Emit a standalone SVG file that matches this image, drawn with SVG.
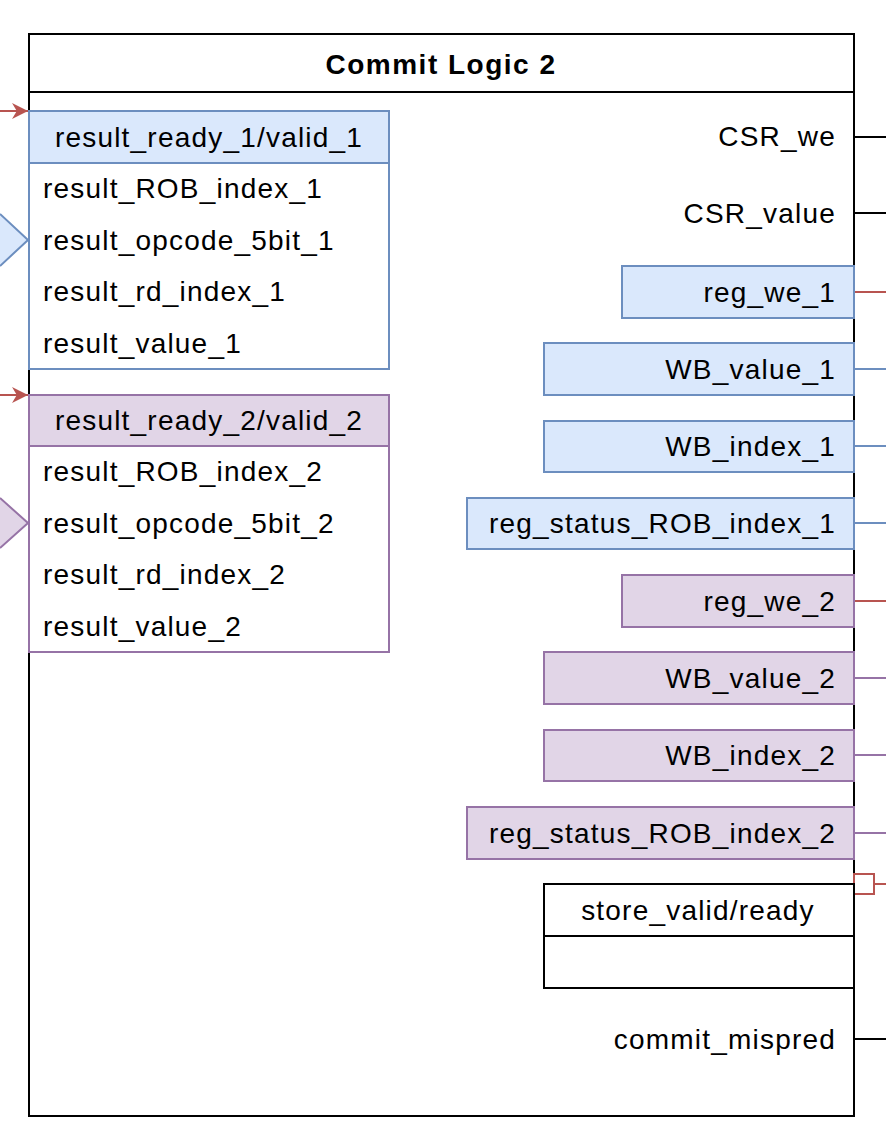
<svg xmlns="http://www.w3.org/2000/svg" width="886" height="1134" viewBox="0 0 886 1134">
<defs>
<style>
text{font-family:"Liberation Sans",Arial,sans-serif;font-size:28px;letter-spacing:1.2px;fill:#000}
.b{fill:#dae8fc;stroke:#6c8ebf;stroke-width:2}
.p{fill:#e1d5e7;stroke:#9673a6;stroke-width:2}
.w{fill:#fff;stroke:#000;stroke-width:2}
.r{text-anchor:end}
.m{text-anchor:middle}
</style>
<marker id="ar" viewBox="0 0 10 10" refX="10" refY="5" markerWidth="18" markerHeight="16" markerUnits="userSpaceOnUse" orient="auto"><path d="M0,0 L10,5 L0,10 L3,5 Z" fill="#b85450"/></marker>
</defs>
<rect width="886" height="1134" fill="#fff"/>
<g id="main">
<rect x="29" y="34" width="825" height="1082" class="w"/>
<line x1="29" y1="92" x2="854" y2="92" stroke="#000" stroke-width="2"/>
<text x="441" y="74" class="m" style="font-weight:bold;letter-spacing:1.5px">Commit Logic 2</text>
<text x="836" y="146" class="r">CSR_we</text>
<text x="836" y="223" class="r">CSR_value</text>
<text x="836" y="1049" class="r">commit_mispred</text>
</g>
<g id="connectors">
<line x1="0" y1="111" x2="28" y2="111" stroke="#b85450" stroke-width="2" marker-end="url(#ar)"/>
<line x1="0" y1="395" x2="28" y2="395" stroke="#b85450" stroke-width="2" marker-end="url(#ar)"/>
<path d="M0,214 L28,240 L0,266" class="b"/>
<path d="M0,498 L28,523 L0,548" class="p"/>
<g stroke="#000" stroke-width="2"><line x1="854" y1="137" x2="886" y2="137"/><line x1="854" y1="213" x2="886" y2="213"/><line x1="854" y1="1039" x2="886" y2="1039"/></g>
<g stroke="#b85450" stroke-width="2"><line x1="854" y1="292" x2="886" y2="292"/><line x1="854" y1="601" x2="886" y2="601"/><line x1="875" y1="884" x2="886" y2="884"/></g>
<g stroke="#6c8ebf" stroke-width="2"><line x1="854" y1="369" x2="886" y2="369"/><line x1="854" y1="446" x2="886" y2="446"/><line x1="854" y1="523" x2="886" y2="523"/></g>
<g stroke="#9673a6" stroke-width="2"><line x1="854" y1="678" x2="886" y2="678"/><line x1="854" y1="755" x2="886" y2="755"/><line x1="854" y1="833" x2="886" y2="833"/></g>
<rect x="854" y="874" width="20" height="20" fill="#fff" stroke="#b85450" stroke-width="2"/>
</g>
<g id="result1">
<rect x="29" y="111" width="360" height="258" fill="#fff" stroke="#6c8ebf" stroke-width="2"/>
<rect x="29" y="111" width="360" height="52" class="b"/>
<text x="209" y="147" class="m">result_ready_1/valid_1</text>
<text x="43" y="198">result_ROB_index_1</text>
<text x="43" y="250">result_opcode_5bit_1</text>
<text x="43" y="301">result_rd_index_1</text>
<text x="43" y="353">result_value_1</text>
</g>
<g id="result2">
<rect x="29" y="395" width="360" height="257" fill="#fff" stroke="#9673a6" stroke-width="2"/>
<rect x="29" y="395" width="360" height="51" class="p"/>
<text x="209" y="430" class="m">result_ready_2/valid_2</text>
<text x="43" y="481">result_ROB_index_2</text>
<text x="43" y="533">result_opcode_5bit_2</text>
<text x="43" y="584">result_rd_index_2</text>
<text x="43" y="636">result_value_2</text>
</g>
<g id="reg_we_1"><rect x="622" y="266" width="232" height="52" class="b"/><text x="836" y="302" class="r">reg_we_1</text></g>
<g id="WB_value_1"><rect x="544" y="343" width="310" height="52" class="b"/><text x="836" y="379" class="r">WB_value_1</text></g>
<g id="WB_index_1"><rect x="544" y="421" width="310" height="51" class="b"/><text x="836" y="456" class="r">WB_index_1</text></g>
<g id="reg_status_1"><rect x="467" y="498" width="387" height="51" class="b"/><text x="836" y="533" class="r">reg_status_ROB_index_1</text></g>
<g id="reg_we_2"><rect x="622" y="575" width="232" height="52" class="p"/><text x="836" y="611" class="r">reg_we_2</text></g>
<g id="WB_value_2"><rect x="544" y="652" width="310" height="52" class="p"/><text x="836" y="688" class="r">WB_value_2</text></g>
<g id="WB_index_2"><rect x="544" y="730" width="310" height="51" class="p"/><text x="836" y="765" class="r">WB_index_2</text></g>
<g id="reg_status_2"><rect x="467" y="807" width="387" height="52" class="p"/><text x="836" y="843" class="r">reg_status_ROB_index_2</text></g>
<g id="store"><rect x="544" y="884" width="310" height="104" class="w"/><line x1="544" y1="936" x2="854" y2="936" stroke="#000" stroke-width="2"/><text x="698" y="920" class="m">store_valid/ready</text></g>
</svg>
